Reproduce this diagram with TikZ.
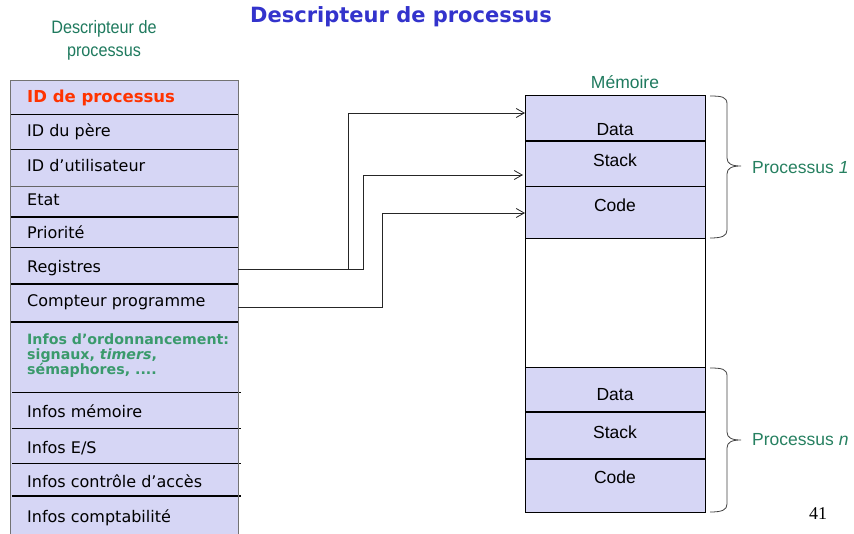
\documentclass[tikz,border=0pt]{standalone}
\usepackage{fontspec}
\setmainfont{DejaVu Sans}
\newfontfamily\arialfont{Liberation Sans}
\newfontfamily\narrowfont[FakeStretch=0.9]{Liberation Sans}
\newfontfamily\serifnum{Liberation Serif}
\usetikzlibrary{arrows.meta,calc}

\definecolor{lav}{RGB}{214,214,245}
\definecolor{titleblue}{RGB}{51,51,204}
\definecolor{idred}{RGB}{255,51,0}
\definecolor{labelgreen}{RGB}{31,122,94}
\definecolor{procgreen}{RGB}{38,128,96}
\definecolor{infogreen}{RGB}{58,154,108}

\tikzset{
  cell/.style={fill=lav, draw=none, inner sep=0pt, outer sep=0pt,
    minimum width=228pt, anchor=north west},
  rowtext/.style={anchor=west, inner sep=0pt,
    font=\fontsize{16}{19}\selectfont, text height=11.7pt, text depth=0pt},
  thinsep/.style={draw=black, line width=0.8pt},
  thicksep/.style={draw=black, line width=1.5pt},
  tableedge/.style={draw=black!55, line width=1pt},
  memcell/.style={fill=lav, draw=black, line width=0.8pt, inner sep=0pt,
    outer sep=0pt, minimum width=180pt, anchor=north west},
  memtext/.style={inner sep=0pt, font=\arialfont\fontsize{17.5}{20}\selectfont,
    text height=12.5pt, text depth=0pt},
  conn/.style={draw=black!85, line width=0.9pt,
    -{Straight Barb[length=8pt,width=9pt,line width=0.8pt]}},
  curly/.style={draw=black!75, line width=0.8pt},
  proclabel/.style={anchor=west, inner sep=0pt, text=procgreen,
    font=\arialfont\fontsize{17.5}{20}\selectfont},
}

\begin{document}
\begin{tikzpicture}[x=1pt,y=-1pt]
\useasboundingbox (0,0) rectangle (854,533);

% headings
\node[font=\bfseries\fontsize{21}{25}\selectfont, text=titleblue] (title) at (401,17) {Descripteur de processus};
\node[font=\narrowfont\fontsize{18}{23}\selectfont, text=labelgreen, align=center] (desclabel) at (104,40) {Descripteur de\\processus};

% process descriptor table
\node[cell, minimum height=34pt] (r1) at (10,80) {};
\node[cell, minimum height=35pt] (r2) at (10,114) {};
\node[cell, minimum height=37pt] (r3) at (10,149) {};
\node[cell, minimum height=31pt] (r4) at (10,186) {};
\node[cell, minimum height=30pt] (r5) at (10,217) {};
\node[cell, minimum height=37pt] (r6) at (10,247) {};
\node[cell, minimum height=38pt] (r7) at (10,284) {};
\node[cell, minimum height=70pt] (r8) at (10,322) {};
\node[cell, minimum height=36pt] (r9) at (10,392) {};
\node[cell, minimum height=35pt] (r10) at (10,428) {};
\node[cell, minimum height=33pt] (r11) at (10,463) {};
\node[cell, minimum height=40pt] (r12) at (10,496) {};

% row separators
\draw[thinsep] (r1.south west) -- (r1.south east);
\draw[thinsep] (r2.south west) -- (r2.south east);
\draw[draw=black!60, line width=0.8pt] (r3.south west) -- (r3.south east);
\draw[thicksep] (r4.south west) -- (r4.south east);
\draw[thinsep] (r5.south west) -- (r5.south east);
\draw[thicksep] (r6.south west) -- (r6.south east);
\draw[thicksep] (r7.south west) -- (r7.south east);
\draw[thinsep] ([xshift=2pt]r8.south west) -- ([xshift=3pt]r8.south east);
\draw[thinsep] ([xshift=2pt]r9.south west) -- ([xshift=3pt]r9.south east);
\draw[thinsep] ([xshift=2pt]r10.south west) -- ([xshift=3pt]r10.south east);
\draw[thicksep] ([xshift=2pt]r11.south west) -- ([xshift=3pt]r11.south east);
\draw[tableedge] (r1.north west) rectangle (r12.south east);

% row texts
\node[rowtext, font=\bfseries\fontsize{16.5}{19}\selectfont, text=idred] (t1) at ([xshift=17pt]r1.west) {ID de processus};
\node[rowtext] (t2) at ([xshift=17pt,yshift=1pt]r2.west) {ID du père};
\node[rowtext] (t3) at ([xshift=17pt,yshift=2pt]r3.west) {ID d’utilisateur};
\node[rowtext] (t4) at ([xshift=17pt,yshift=2pt]r4.west) {Etat};
\node[rowtext] (t5) at ([xshift=17pt,yshift=-1pt]r5.west) {Priorité};
\node[rowtext] (t6) at ([xshift=17pt,yshift=-1.5pt]r6.west) {Registres};
\node[rowtext] (t7) at ([xshift=17pt,yshift=2pt]r7.west) {Compteur programme};
\node[anchor=west, inner sep=0pt, align=left, text=infogreen,
      font=\bfseries\fontsize{14.2}{15}\selectfont] (t8) at ([xshift=17pt,yshift=1pt]r8.west)
      {Infos d’ordonnancement:\\signaux, \textit{timers},\\sémaphores, ....};
\node[rowtext] (t9) at ([xshift=17pt,yshift=-2pt]r9.west) {Infos mémoire};
\node[rowtext] (t10) at ([xshift=17pt,yshift=-2pt]r10.west) {Infos E/S};
\node[rowtext] (t11) at ([xshift=17pt,yshift=-2pt]r11.west) {Infos contrôle d’accès};
\node[rowtext] (t12) at ([xshift=17pt,yshift=-1pt]r12.west) {Infos comptabilité};

% memory
\node[font=\arialfont\fontsize{17.5}{20}\selectfont, text=labelgreen] (memtitle) at (625,82) {Mémoire};
\node[memcell, minimum height=46pt] (d1) at (525,95) {};
\node[memcell, minimum height=45pt] (s1) at (525,141) {};
\node[memcell, minimum height=52pt] (c1) at (525,186) {};
\node[memcell, minimum height=45pt] (dn) at (525,367) {};
\node[memcell, minimum height=47pt] (sn) at (525,412) {};
\node[memcell, minimum height=53pt] (cn) at (525,459) {};
\draw[line width=1.4pt] (d1.south west) -- (d1.south east);
\draw[line width=1.4pt] (dn.south west) -- (dn.south east);
\draw[line width=1.4pt] (sn.south west) -- (sn.south east);
\draw[line width=0.8pt] (c1.south west) -- (dn.north west);
\draw[line width=0.8pt] (c1.south east) -- (dn.north east);

\node[memtext] (ld1) at ([yshift=-11pt]d1.center) {Data};
\node[memtext] (ls1) at ([yshift=3.5pt]s1.center) {Stack};
\node[memtext] (lc1) at ([yshift=7pt]c1.center) {Code};
\node[memtext] (ldn) at ([yshift=-4.5pt]dn.center) {Data};
\node[memtext] (lsn) at ([yshift=3.5pt]sn.center) {Stack};
\node[memtext] (lcn) at ([yshift=8.5pt]cn.center) {Code};

% pointers from the descriptor into memory
\coordinate (regout) at ([yshift=-3.5pt]r6.east);
\coordinate (pcout) at ([yshift=-4pt]r7.east);
\coordinate (d1in) at ([yshift=5pt]d1.west);
\coordinate (s1in) at ([xshift=-2pt,yshift=-11.5pt]s1.west);
\coordinate (c1in) at ([yshift=-1pt]c1.west);
\draw[conn] (regout) -- ++(110,0) |- (d1in);
\draw[conn] (regout) -- ++(125,0) |- (s1in);
\draw[conn] (pcout) -- ++(144,0) |- (c1in);

% braces grouping each process
\draw[curly] (710,96) .. controls (722,96) and (727,97) .. (727,104) -- (727,158)
  .. controls (727,164) and (732,166) .. (741,166)
  .. controls (732,166) and (727,168) .. (727,174) -- (727,230)
  .. controls (727,236) and (722,238) .. (710,238);
\draw[curly] (710,368) .. controls (722,368) and (727,369) .. (727,376) -- (727,432)
  .. controls (727,438) and (732,440) .. (741,440)
  .. controls (732,440) and (727,442) .. (727,448) -- (727,504)
  .. controls (727,510) and (722,512) .. (710,512);
\node[proclabel] (p1) at (752,168) {Processus \textit{1}};
\node[proclabel] (pn) at (752,440) {Processus \textit{n}};

% slide number
\node[font=\serifnum\fontsize{18}{20}\selectfont] (pagenum) at (818,514) {41};
\end{tikzpicture}
\end{document}
